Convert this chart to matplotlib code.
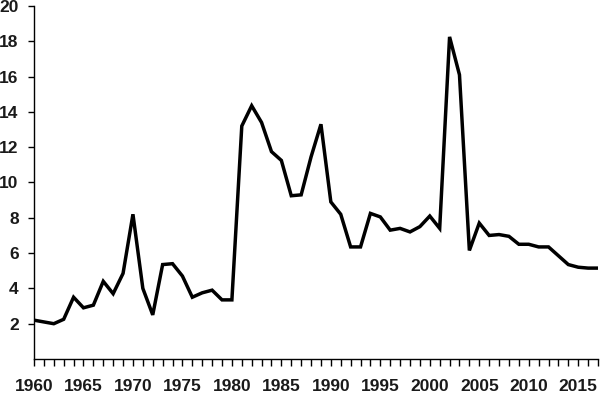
import matplotlib
matplotlib.use("Agg")
import matplotlib.pyplot as plt
from matplotlib.ticker import MultipleLocator

years = list(range(1960, 2018))
values = [2.2, 2.1, 2.0, 2.25, 3.5, 2.9, 3.05, 4.4, 3.7, 4.85,
          8.2, 4.0, 2.5, 5.35, 5.4, 4.7, 3.5, 3.75, 3.9, 3.35,
          3.35, 13.2, 14.35, 13.4, 11.75, 11.25, 9.25, 9.3, 11.45, 13.3,
          8.9, 8.2, 6.35, 6.35, 8.25, 8.05, 7.3, 7.4, 7.2, 7.5,
          8.1, 7.4, 18.25, 16.1, 6.15, 7.7, 7.0, 7.05, 6.95, 6.5,
          6.5, 6.35, 6.35, 5.85, 5.35, 5.2, 5.15, 5.15]
y_ticks = [2, 4, 6, 8, 10, 12, 14, 16, 18, 20]
x_ticks = [1960, 1965, 1970, 1975, 1980, 1985, 1990, 1995, 2000, 2005, 2010, 2015]

plt.rcParams['font.family'] = ['Liberation Sans', 'DejaVu Sans']
fig = plt.figure(figsize=(6.0, 3.94), dpi=100)
ax = fig.add_axes([34/600, 35/394, 564/600, 353/394])
ax.plot(years, values, color='black', lw=2.5, solid_joinstyle='miter')
ax.set_xlim(1960, 2017)
ax.set_ylim(0, 20)
ax.set_yticks(y_ticks)
ax.set_xticks(x_ticks)
ax.xaxis.set_minor_locator(MultipleLocator(1))
for s in ['top', 'right']:
    ax.spines[s].set_visible(False)
for s in ['left', 'bottom']:
    ax.spines[s].set_linewidth(1.0)
ax.tick_params(axis='y', which='major', length=4, width=1, direction='out', pad=7, labelsize=12.5)
ax.tick_params(axis='x', which='both', length=5, width=1, direction='out', pad=9.5, labelsize=12.5)
for lab in ax.get_xticklabels() + ax.get_yticklabels():
    lab.set_fontweight('bold')
    lab.set_color('#1a1a1a')
fig.savefig('out.png', dpi=100)
